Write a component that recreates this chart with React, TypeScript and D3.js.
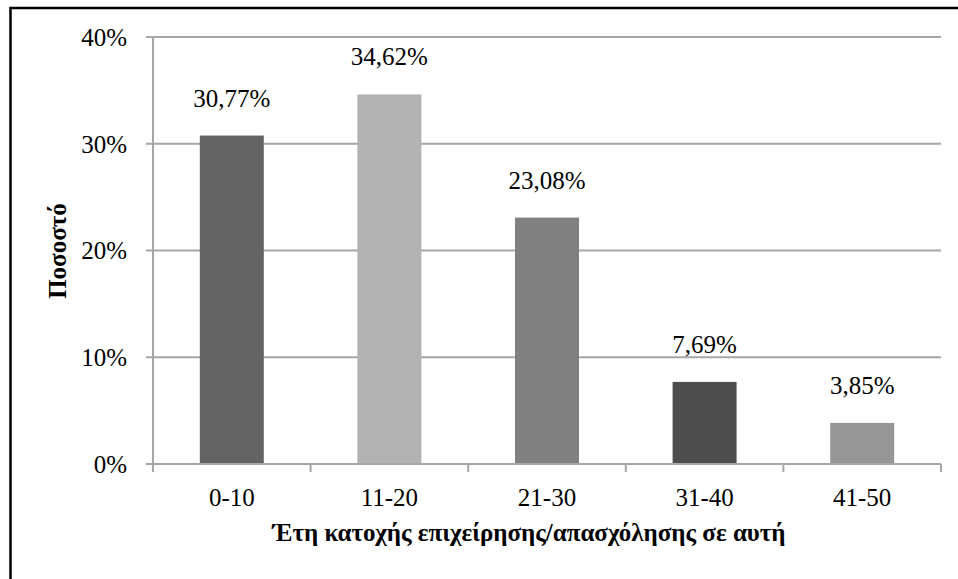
import React from "react";
import * as d3 from "d3";

const categories = ["0-10", "11-20", "21-30", "31-40", "41-50"];
const values = [30.77, 34.62, 23.08, 7.69, 3.85];
const valueLabels = ["30,77%", "34,62%", "23,08%", "7,69%", "3,85%"];
const barColors = ["#646464", "#b2b2b2", "#808080", "#4d4d4d", "#969696"];
const yTicks = [0, 10, 20, 30, 40];
const xTitle = "Έτη κατοχής επιχείρησης/απασχόλησης σε αυτή";
const yTitle = "Ποσοστό";

export default function App() {
  const W = 958, H = 579;
  const left = 153, right = 941, top = 37, bottom = 464;
  const x = d3.scaleBand<string>().domain(categories).range([left, right]).paddingInner(0.594).paddingOuter(0.297);
  const y = d3.scaleLinear().domain([0, 40]).range([bottom, top]);
  const step = x.step();
  const font = "'Liberation Serif', 'Times New Roman', serif";
  const grid = "#a6a6a6";
  return (
    <svg width={W} height={H} style={{ position: "absolute", left: 0, top: 0, background: "#fff" }} fontFamily={font}>
      <rect x={0} y={0} width={W} height={H} fill="#fff" />
      <path d={`M10.5,${H + 5} V8 H${W + 5}`} fill="none" stroke="#000" strokeWidth={2.5} />
      {yTicks.map((t) => (
        <g key={t}>
          <line x1={left - 7} x2={right} y1={y(t)} y2={y(t)} stroke={grid} strokeWidth={2} />
          <text x={127} y={y(t)} dy="0.35em" textAnchor="end" fontSize={25} fill="#000">{t}%</text>
        </g>
      ))}
      <line x1={left} x2={left} y1={top} y2={bottom} stroke={grid} strokeWidth={2} />
      {categories.map((c, i) => (
        <line key={"t" + i} x1={left + i * step} x2={left + i * step} y1={bottom} y2={bottom + 8} stroke={grid} strokeWidth={2} />
      ))}
      <line x1={right} x2={right} y1={bottom} y2={bottom + 8} stroke={grid} strokeWidth={2} />
      {categories.map((c, i) => (
        <g key={c}>
          <rect x={x(c)} y={y(values[i])} width={x.bandwidth()} height={y(0) - y(values[i]) - 1} fill={barColors[i]} />
          <text x={(x(c) as number) + x.bandwidth() / 2} y={y(values[i]) - 29} textAnchor="middle" fontSize={25} fill="#000">{valueLabels[i]}</text>
          <text x={(x(c) as number) + x.bandwidth() / 2} y={506} textAnchor="middle" fontSize={25} fill="#000">{c}</text>
        </g>
      ))}
      <text x={529} y={541} textAnchor="middle" fontSize={25} fontWeight="bold" fill="#000">{xTitle}</text>
      <text transform={`translate(66,251) rotate(-90)`} textAnchor="middle" fontSize={25} fontWeight="bold" fill="#000">{yTitle}</text>
    </svg>
  );
}
